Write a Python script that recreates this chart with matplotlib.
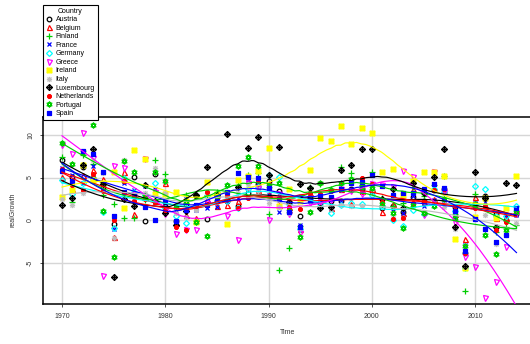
import numpy as np
import matplotlib
matplotlib.use('Agg')
import matplotlib.pyplot as plt
from matplotlib.path import Path
from matplotlib.lines import Line2D

plt.rcParams['font.family'] = ['Liberation Sans', 'DejaVu Sans']

years = list(range(1970, 2015))

countries = ['Austria', 'Belgium', 'Finland', 'France', 'Germany', 'Greece',
             'Ireland', 'Italy', 'Luxembourg', 'Netherlands', 'Portugal', 'Spain']

austria = [7.1, 5.1, 6.2, 4.9, 3.9, -0.4, 4.6, 5.1, -0.1, 5.4, 1.7, -0.1, 1.9, 2.8, 0.1,
           2.2, 2.3, 1.7, 3.2, 4.2, 4.6, 3.4, 2.1, 0.5, 2.6, 2.0, 2.3, 2.2, 3.6, 3.6,
           3.4, 1.4, 1.7, 0.9, 2.7, 2.2, 3.5, 3.7, 1.5, -3.8, 1.9, 2.8, 0.7, 0.0, 0.7]
belgium = [5.1, 3.7, 5.3, 5.9, 4.8, -2.0, 5.7, 0.7, 2.7, 2.2, 4.4, -0.3, 0.6, 0.3, 2.5,
           1.7, 1.8, 2.3, 4.7, 3.5, 3.1, 1.8, 1.5, -1.0, 3.2, 2.4, 1.4, 3.7, 1.9, 3.4,
           3.6, 0.9, 1.9, 0.8, 3.6, 2.1, 2.5, 3.4, 0.7, -2.2, 2.7, 1.8, 0.2, 0.2, 1.3]
finland = [7.4, 2.1, 7.6, 6.6, 3.0, 1.9, 0.3, 0.2, 2.4, 7.1, 5.4, 1.4, 3.0, 2.8, 3.0,
           3.3, 2.5, 4.1, 5.3, 5.5, 0.7, -5.9, -3.3, -0.7, 3.9, 4.2, 3.6, 6.2, 5.5, 4.1,
           5.6, 2.6, 1.7, 2.0, 3.9, 2.8, 4.1, 5.2, 0.7, -8.3, 3.1, 2.6, -1.4, -0.8, -0.6]
france = [6.1, 5.3, 4.4, 6.3, 4.3, -1.0, 4.4, 3.5, 4.0, 3.6, 1.6, 1.1, 2.5, 1.2, 1.4,
          1.5, 2.3, 2.6, 4.7, 4.3, 2.9, 1.0, 1.6, -0.6, 2.3, 2.1, 1.4, 2.3, 3.6, 3.4,
          3.9, 2.0, 1.1, 0.8, 2.8, 1.7, 2.4, 2.4, 0.2, -2.9, 2.0, 2.1, 0.2, 0.6, 0.6]
germany = [4.7, 3.1, 4.3, 4.8, 0.9, -0.9, 4.9, 3.3, 3.0, 4.3, 1.4, 0.5, -0.3, 1.6, 2.8,
           2.3, 2.3, 1.4, 3.7, 3.9, 5.3, 5.1, 1.9, -1.0, 2.5, 1.7, 0.8, 1.8, 2.0, 1.9,
           3.0, 1.7, 0.0, -0.7, 1.2, 0.7, 3.7, 3.3, 1.1, -5.6, 4.0, 3.7, 0.5, 0.5, 1.6]
greece = [8.8, 7.8, 10.2, 7.3, -6.5, 6.3, 6.1, 2.9, 7.2, 3.3, 0.7, -1.6, -1.1, -1.2, 2.0,
          2.5, 0.5, -2.3, 4.3, 3.8, 0.0, 3.1, 0.7, -1.5, 2.0, 2.1, 2.4, 3.6, 3.4, 3.1,
          4.2, 4.1, 3.9, 5.8, 5.1, 0.6, 5.7, 3.3, -0.3, -4.3, -5.5, -9.1, -7.3, -3.2, 0.7]
ireland = [2.7, 3.5, 6.5, 4.7, 4.3, 5.7, 1.4, 8.2, 7.2, 3.1, 3.1, 3.3, 2.3, -0.2, 4.5,
           3.1, -0.4, 4.7, 5.2, 5.8, 8.5, 1.6, 3.6, 2.3, 5.9, 9.6, 9.3, 11.0, 8.9, 10.8,
           10.2, 5.7, 6.0, 3.0, 4.6, 5.7, 5.7, 5.2, -2.2, -5.6, 0.4, 2.6, 0.2, 1.4, 5.2]
italy = [2.5, 1.8, 3.2, 7.1, 5.5, -2.1, 7.1, 2.6, 3.2, 6.1, 3.2, 0.8, 0.4, 1.2, 3.2,
         2.8, 2.9, 3.2, 4.2, 3.4, 2.0, 1.5, 0.8, -0.9, 2.2, 2.9, 1.3, 1.8, 1.6, 1.6,
         3.7, 1.8, 0.2, 0.2, 1.6, 1.0, 2.0, 1.5, -1.0, -5.5, 1.7, 0.6, -2.8, -1.7, -0.3]
luxembourg = [1.8, 2.6, 6.5, 8.3, 4.2, -6.7, 2.5, 1.6, 4.1, 2.3, 0.8, -0.6, 1.1, 3.0, 6.2,
              2.9, 10.1, 3.9, 8.5, 9.8, 5.3, 8.6, 2.1, 4.2, 3.8, 1.4, 1.5, 5.9, 6.5, 8.4,
              8.4, 2.5, 3.6, 1.4, 4.4, 3.2, 5.1, 8.4, -0.8, -5.4, 5.7, 2.6, -0.8, 4.3, 4.1]
netherlands = [6.0, 4.1, 3.5, 5.4, 3.4, 0.0, 4.6, 2.3, 2.5, 2.1, 1.2, -0.8, -1.2, 1.7, 3.3,
               2.6, 2.8, 1.4, 2.6, 4.7, 4.2, 2.4, 1.5, 1.3, 3.2, 3.1, 3.4, 4.3, 4.5, 5.0,
               4.2, 2.1, 0.1, 0.3, 2.0, 2.2, 3.5, 3.7, 1.7, -3.8, 1.4, 1.7, -1.1, -0.2, 1.4]
portugal = [9.1, 6.6, 8.0, 11.2, 1.1, -4.3, 6.9, 5.6, 2.8, 5.6, 4.6, 1.6, 2.1, -0.2, -1.9,
            2.8, 4.1, 6.4, 7.4, 6.3, 4.0, 4.4, 1.1, -2.0, 1.0, 4.3, 3.5, 4.4, 4.8, 3.9,
            3.8, 1.9, 0.8, -0.9, 1.8, 0.8, 1.6, 2.5, 0.2, -3.0, 1.9, -1.8, -4.0, -1.1, 0.9]
spain = [5.8, 4.6, 8.1, 7.8, 5.6, 0.5, 3.3, 2.8, 1.5, 0.0, 2.2, -0.1, 1.2, 1.8, 1.8,
         2.3, 3.3, 5.5, 5.1, 4.9, 3.8, 2.5, 0.9, -0.8, 2.4, 2.8, 2.7, 3.7, 4.3, 4.5,
         5.3, 4.0, 2.9, 3.2, 3.2, 3.7, 4.2, 3.8, 1.1, -3.6, 0.1, -1.0, -2.6, -1.7, 1.4]

growth = [austria, belgium, finland, france, germany, greece,
          ireland, italy, luxembourg, netherlands, portugal, spain]

# R palette() recycled, pch 1:12 like car::scatterplot
colors = ['black', 'red', '#00CD00', 'blue', 'cyan', 'magenta',
          'yellow', '#BEBEBE', 'black', 'red', '#00CD00', 'blue']


def seg(a, b):
    return Path([a, b], [Path.MOVETO, Path.LINETO])


square = Path([(-1, -1), (1, -1), (1, 1), (-1, 1), (-1, -1)], closed=True)
diamond = Path([(0, -1.3), (1.3, 0), (0, 1.3), (-1.3, 0), (0, -1.3)], closed=True)
circle = Path.unit_circle()
plus = [seg((-1.3, 0), (1.3, 0)), seg((0, -1.3), (0, 1.3))]
cross = [seg((-1, -1), (1, 1)), seg((-1, 1), (1, -1))]
tri_up = Path([(0, 1.2), (1.04, -0.6), (-1.04, -0.6), (0, 1.2)], closed=True)
tri_dn = Path([(0, -1.2), (1.04, 0.6), (-1.04, 0.6), (0, -1.2)], closed=True)

pch7 = Path.make_compound_path(square, *cross)
pch8 = Path.make_compound_path(*plus, *cross)
pch9 = Path.make_compound_path(diamond, *plus)
pch10 = Path.make_compound_path(circle, *plus)
pch11 = Path.make_compound_path(tri_up, tri_dn)
pch12 = Path.make_compound_path(square, *plus)

markers = ['o', '^', '+', 'x', 'D', 'v', pch7, pch8, pch9, pch10, pch11, pch12]
msizes = [3.3, 3.6, 4.0, 3.2, 3.0, 3.6, 3.4, 3.8, 4.2, 3.5, 4.0, 3.5]


def loess(x, y, xs, span=0.5, iters=4):
    x = np.asarray(x, float); y = np.asarray(y, float)
    q = int(np.floor(len(x) * span))
    rw = np.ones_like(x)

    def fit_at(x0):
        d = np.abs(x - x0)
        h = np.sort(d)[q - 1]
        w = np.clip(1 - (d / h) ** 3, 0, None) ** 3 * rw
        X = np.column_stack([np.ones_like(x), x - x0, (x - x0) ** 2])
        W = np.sqrt(w)
        beta = np.linalg.lstsq(X * W[:, None], y * W, rcond=None)[0]
        return beta[0]

    for _ in range(iters - 1):
        res = y - np.array([fit_at(v) for v in x])
        s = np.median(np.abs(res))
        u = res / (6 * s)
        rw = np.where(np.abs(u) < 1, (1 - u ** 2) ** 2, 0.0)
    return np.array([fit_at(v) for v in xs])


fig = plt.figure(figsize=(5.3, 3.44), dpi=100)
ax = fig.add_axes([43 / 530, 40 / 344, 490 / 530, 187 / 344])

grid_x = np.linspace(1970, 2014, 200)
handles = []
for name, vals, col, mk, ms in zip(countries, growth, colors, markers, msizes):
    filled = name in ('Ireland', 'Spain')
    ax.plot(years, vals, linestyle='none', marker=mk, ms=ms, color=col,
            mfc=col if filled else 'none', mew=0.9, zorder=3)
    ax.plot(grid_x, loess(years, vals, grid_x), color=col, lw=0.85, zorder=4)
    handles.append(Line2D([], [], linestyle='none', marker=mk, ms=ms, color=col,
                          mfc=col if filled else 'none', mew=0.9, label=name))

ax.set_xlim(1968.16, 2015.6)
ax.set_ylim(-9.84, 12.1)
ax.set_xticks([1970, 1980, 1990, 2000, 2010])
ax.set_yticks([-5, 0, 5, 10])
ax.set_yticklabels(['-5', '0', '5', '10'], rotation=90, va='center')
ax.grid(True, color='#d6d6d6', lw=1.0, zorder=0)
ax.set_axisbelow(True)
ax.tick_params(labelsize=5, length=2.5, width=0.6, pad=4, colors='#333333')
for sp in ax.spines.values():
    sp.set_linewidth(1.1)
    sp.set_color('black')

fig.text(288 / 530, 1 - 333 / 344, 'Time', ha='center', va='center', fontsize=5, color='#333333')
fig.text(13 / 530, 1 - 210 / 344, 'realGrowth', ha='center', va='center', rotation=90,
         fontsize=5, color='#333333')

leg = fig.legend(handles=handles, loc='upper left', bbox_to_anchor=(43 / 530, 1 - 5 / 344),
                 title='Country', fontsize=5, title_fontsize=5, frameon=True, fancybox=False,
                 edgecolor='black', framealpha=1, handlelength=0.8, handletextpad=0.6,
                 borderpad=0.4, labelspacing=0.22, borderaxespad=0)
leg.get_frame().set_linewidth(0.8)

fig.savefig('out.png', dpi=100)
